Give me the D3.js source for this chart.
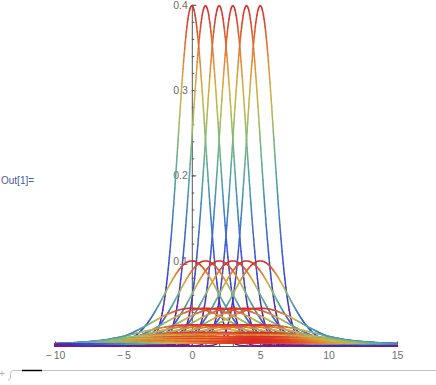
<!DOCTYPE html>
<html>
<head>
<meta charset="utf-8">
<script src="https://cdn.jsdelivr.net/npm/d3@7"></script>
<style>
  html, body { margin: 0; padding: 0; background: #fff; }
  svg { display: block; font-family: "Liberation Sans", Arial, sans-serif; }
</style>
</head>
<body>
<svg width="436" height="385"></svg>
<script>
// curve parameters: one bell per (mean, width) pair
const means = [0, 1, 2, 3, 4, 5];
const widths = [1, 2, 3, 4, 5, 6, 7, 8, 9, 10];
const xDomain = [-10, 15];
const xTickLabels = [-10, -5, 0, 5, 10, 15];
const yTickLabels = [0.1, 0.2, 0.3, 0.4];

// Mathematica-like "Rainbow" colour scheme
const rainbowStops = [0, 0.08, 0.16, 0.3, 0.4, 0.5, 0.6, 0.68, 0.76, 0.84, 0.92, 1];
const rainbowColors = ["#781c88", "#5a23ab", "#3e3fd2", "#3d60d4", "#4286c0", "#55a5a2",
                       "#7db67a", "#b0bb55", "#d5ad40", "#e28934", "#e15a2a", "#d92b27"];

const svg = d3.select("svg");

const x = d3.scaleLinear().domain(xDomain).range([55, 397]);
const y = d3.scaleLinear().domain([0, 0.4]).range([346, 4.8]);

const color = d3.scaleLinear()
    .domain(rainbowStops)
    .range(rainbowColors)
    .interpolate(d3.interpolateRgb)
    .clamp(true);

// density divided by the width again, peaks at 0.4 / s^2
const bell = (mu, s) => v => Math.exp(-((v - mu) ** 2) / (2 * s * s)) / (s * s * Math.sqrt(2 * Math.PI));

// ---- axes (behind the curves)
const axisColor = "#555";
const labelColor = "#6d6d6d";

const xMinor = svg.append("g").attr("transform", `translate(0,${y(0)})`)
    .call(d3.axisBottom(x).tickValues(d3.range(-10, 16, 1)).tickSizeInner(-2.5).tickSizeOuter(0).tickFormat(""));
xMinor.select(".domain").remove();

const xAxis = svg.append("g").attr("transform", `translate(0,${y(0)})`)
    .call(d3.axisBottom(x).tickValues(xTickLabels).tickSizeInner(-4.5).tickSizeOuter(0).tickPadding(5.5)
      .tickFormat(d => d < 0 ? "\u2212\u2009" + Math.abs(d) : d));

const yMinor = svg.append("g").attr("transform", `translate(${x(0)},0)`)
    .call(d3.axisLeft(y).tickValues(d3.range(0.02, 0.41, 0.02)).tickSizeInner(-2.5).tickSizeOuter(0).tickFormat(""));
yMinor.select(".domain").remove();

const yAxis = svg.append("g").attr("transform", `translate(${x(0)},0)`)
    .call(d3.axisLeft(y).tickValues(yTickLabels).tickSizeInner(-4.5).tickSizeOuter(0).tickPadding(4)
      .tickFormat(d3.format(".1f")));

svg.selectAll(".domain, .tick line").attr("stroke", axisColor).attr("stroke-width", 1);
svg.selectAll(".tick text").attr("fill", labelColor).attr("font-size", 10.5)
    .attr("font-family", "'Liberation Sans', Arial, sans-serif");

// ---- curves, coloured by their own height (scaled per curve)
const line = d3.line().x(d => x(d[0])).y(d => y(d[1]));
const curves = svg.append("g").attr("fill", "none").attr("stroke-width", 1.5)
    .attr("stroke-linecap", "round").attr("stroke-linejoin", "round");

const step = 0.04;
const xs = d3.range(xDomain[0], xDomain[1] + step / 2, step);
const levels = 96;

widths.forEach(s => {
  means.forEach(mu => {
    const f = bell(mu, s);
    const pts = xs.map(v => [v, f(v)]);
    const [lo, hi] = d3.extent(pts, d => d[1]);
    // split into runs of equal quantised colour
    let run = [pts[0]];
    let runLevel = null;
    for (let i = 1; i < pts.length; i++) {
      const t = ((pts[i - 1][1] + pts[i][1]) / 2 - lo) / (hi - lo);
      const lvl = Math.round(t * levels);
      if (runLevel !== null && lvl !== runLevel) {
        curves.append("path").attr("d", line(run)).attr("stroke", color(runLevel / levels));
        run = [pts[i - 1]];
      }
      runLevel = lvl;
      run.push(pts[i]);
    }
    curves.append("path").attr("d", line(run)).attr("stroke", color(runLevel / levels));
  });
});

// ---- notebook decorations
svg.append("text").attr("x", 1).attr("y", 184).attr("font-size", 10)
    .attr("fill", "#4a56a6").text("Out[1]=");

svg.append("line").attr("x1", 13).attr("x2", 436).attr("y1", 370.5).attr("y2", 370.5)
    .attr("stroke", "#c4c4c4").attr("stroke-width", 1);
svg.append("line").attr("x1", 22).attr("x2", 42).attr("y1", 370.5).attr("y2", 370.5)
    .attr("stroke", "#000").attr("stroke-width", 1.5);
svg.append("path").attr("d", "M13,370.5 Q10.5,371 10.5,374 L10.5,378 Q10.5,380 8,380")
    .attr("fill", "none").attr("stroke", "#c4c4c4");
svg.append("text").attr("x", -1).attr("y", 377).attr("font-size", 10)
    .attr("fill", "#b0b0b0").text("+");
</script>
</body>
</html>
